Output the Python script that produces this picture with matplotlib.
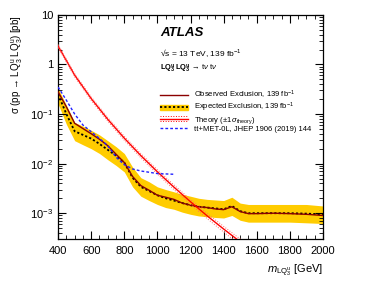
import numpy as np
import matplotlib
matplotlib.use("Agg")
import matplotlib.pyplot as plt
from matplotlib.lines import Line2D
from matplotlib.patches import Patch
from matplotlib.legend_handler import HandlerBase
from matplotlib.ticker import FixedLocator, MultipleLocator, FuncFormatter

plt.rcParams['font.family'] = ['Liberation Sans', 'DejaVu Sans']
plt.rcParams['mathtext.fontset'] = 'custom'
plt.rcParams['mathtext.rm'] = 'Liberation Sans'
plt.rcParams['mathtext.it'] = 'Liberation Sans:italic'
plt.rcParams['mathtext.bf'] = 'Liberation Sans:bold'

# limits
mass = [400, 450, 500, 550, 600, 650, 700, 750, 800, 850, 900, 950, 1000, 1050,
        1100, 1150, 1200, 1250, 1300, 1350, 1400, 1450, 1500, 1550, 1600, 1700,
        1800, 1900, 2000]
observed = [0.28, 0.14, 0.065, 0.051, 0.040, 0.031, 0.023, 0.0155, 0.0105, 0.0055,
            0.0036, 0.0029, 0.0023, 0.0021, 0.0019, 0.0016, 0.00145, 0.00135, 0.0013,
            0.00122, 0.00118, 0.00135, 0.00108, 0.00098, 0.00098, 0.0010, 0.00098,
            0.00095, 0.0009]
expected = [0.25, 0.10, 0.045, 0.038, 0.032, 0.025, 0.019, 0.0145, 0.0105, 0.0052,
            0.0034, 0.0028, 0.0023, 0.0020, 0.0018, 0.0016, 0.00145, 0.00135, 0.0013,
            0.00125, 0.0012, 0.0014, 0.0011, 0.0010, 0.0010, 0.0010, 0.0010,
            0.00098, 0.00095]
band_up = [0.33, 0.15, 0.068, 0.057, 0.047, 0.038, 0.029, 0.022, 0.016, 0.0085,
           0.0052, 0.0043, 0.0034, 0.0030, 0.0027, 0.0024, 0.0022, 0.0020, 0.0019,
           0.00185, 0.0018, 0.0021, 0.0016, 0.0015, 0.0015, 0.0015, 0.0015,
           0.0015, 0.0014]
band_dn = [0.16, 0.062, 0.029, 0.024, 0.020, 0.016, 0.012, 0.0092, 0.0068, 0.0034,
           0.0022, 0.0018, 0.0015, 0.0013, 0.0012, 0.00105, 0.00095, 0.00088, 0.00085,
           0.00082, 0.0008, 0.0009, 0.00072, 0.00066, 0.00066, 0.00066, 0.00066,
           0.00064, 0.00062]

# theory cross section
theory_mass = [400, 500, 600, 700, 800, 900, 1000, 1100, 1200, 1300, 1400, 1500, 1600]
theory_xsec = [2.35, 0.609, 0.205, 0.0783, 0.0326, 0.0145, 0.00683, 0.00335,
               0.00170, 0.000887, 0.000480, 0.000265, 0.000148]
theory_unc = [0.07, 0.075, 0.08, 0.085, 0.09, 0.095, 0.10, 0.105, 0.11, 0.12,
              0.13, 0.14, 0.15]

# previous result tt+MET-0L
prev_mass = [400, 450, 500, 550, 600, 650, 700, 750, 800, 850, 900, 950, 1000,
             1050, 1100]
prev_xsec = [0.35, 0.19, 0.10, 0.06, 0.044, 0.032, 0.023, 0.0135, 0.0095, 0.0078,
             0.0071, 0.0067, 0.0063, 0.0062, 0.0061]

yticks = [1e-3, 1e-2, 1e-1, 1, 10]


class TheoryHandler(HandlerBase):
    def create_artists(self, legend, orig_handle, xdescent, ydescent, width,
                       height, fontsize, trans):
        y = height / 2 - ydescent
        artists = []
        for dy, ls, lw in [(0, '-', 1.0), (2.0, ':', 0.7), (-2.0, ':', 0.7)]:
            artists.append(Line2D([-xdescent, width - xdescent], [y + dy, y + dy],
                                  color='red', ls=ls, lw=lw, transform=trans))
        return artists


fig = plt.figure(figsize=(3.9, 2.81), dpi=100)
ax = fig.add_axes([0.149, 0.149, 0.679, 0.798])

ax.fill_between(mass, band_dn, band_up, color='#FFCC00', lw=0, zorder=1)
ax.plot(mass, expected, color='black', ls=(0, (1.2, 1.2)), lw=1.3, zorder=2)
ax.plot(mass, observed, color='#8B0000', lw=1.0, zorder=3)

th = np.array(theory_xsec)
unc = np.array(theory_unc)
ax.plot(theory_mass, th, color='red', lw=1.0, zorder=4)
ax.plot(theory_mass, th * (1 + unc), color='#FF6666', ls=':', lw=0.7, zorder=4)
ax.plot(theory_mass, th * (1 - unc), color='#FF6666', ls=':', lw=0.7, zorder=4)

ax.plot(prev_mass, prev_xsec, color='#2222FF', ls=(0, (2, 1.5)), lw=1.0, zorder=5)

ax.set_yscale('log')
ax.set_xlim(400, 2000)
ax.set_ylim(3e-4, 10)

ax.xaxis.set_major_locator(MultipleLocator(200))
ax.xaxis.set_minor_locator(MultipleLocator(50))
ax.yaxis.set_major_locator(FixedLocator(yticks))


def fmt(v, pos):
    if v >= 10:
        return '10'
    if v == 1:
        return '1'
    return r'$10^{%d}$' % int(round(np.log10(v)))


ax.yaxis.set_major_formatter(FuncFormatter(fmt))
ax.tick_params(which='both', direction='in', top=True, right=True, labelsize=8)
ax.tick_params(axis='x', pad=5)
ax.tick_params(which='major', length=6, width=0.8)
ax.tick_params(which='minor', length=3, width=0.6)
for s in ax.spines.values():
    s.set_linewidth(0.9)

ax.set_xlabel(r'$m_{\mathrm{LQ}_3^{\mathrm{u}}}$ [GeV]', loc='right', fontsize=8,
              labelpad=4)
ax.set_ylabel('σ (pp → LQ$_3^{\\mathrm{u}}$ LQ$_3^{\\mathrm{u}}$) [pb]',
              loc='top', fontsize=7, labelpad=4)

ax.text(0.385, 0.92, 'ATLAS', transform=ax.transAxes, fontsize=9.5,
        fontweight='bold', fontstyle='italic', va='center')
ax.text(0.385, 0.83, '√s = 13 TeV, 139 fb$^{-1}$', transform=ax.transAxes,
        fontsize=6, va='center')
ax.text(0.385, 0.757,
        r'$\mathbf{LQ}_{\mathbf{3}}^{\mathbf{u}}\,\mathbf{LQ}_{\mathbf{3}}^{\mathbf{u}}$ → t$\nu$ t$\nu$',
        transform=ax.transAxes, fontsize=5.5, va='center')

theory_handle = Line2D([], [], color='red')
handles = [Line2D([], [], color='#8B0000', lw=1.0),
           (Patch(color='#FFCC00'), Line2D([], [], color='black', ls=(0, (1.2, 1.2)), lw=1.3)),
           theory_handle,
           Line2D([], [], color='#2222FF', ls=(0, (2, 1.5)), lw=1.0)]
labels = [r'Observed Exclusion, 139 fb$^{-1}$',
          r'Expected Exclusion, 139 fb$^{-1}$',
          r'Theory ($\pm1\,\sigma_{\mathrm{theory}}$)',
          'tt+MET-0L, JHEP 1906 (2019) 144']
ax.legend(handles, labels, loc='upper left', bbox_to_anchor=(0.385, 0.672),
          frameon=False, fontsize=5.5, handlelength=3.7, handleheight=0.6,
          labelspacing=0.05, handletextpad=0.8, borderpad=0, borderaxespad=0,
          handler_map={theory_handle: TheoryHandler()})

fig.savefig('out.png', dpi=100)
